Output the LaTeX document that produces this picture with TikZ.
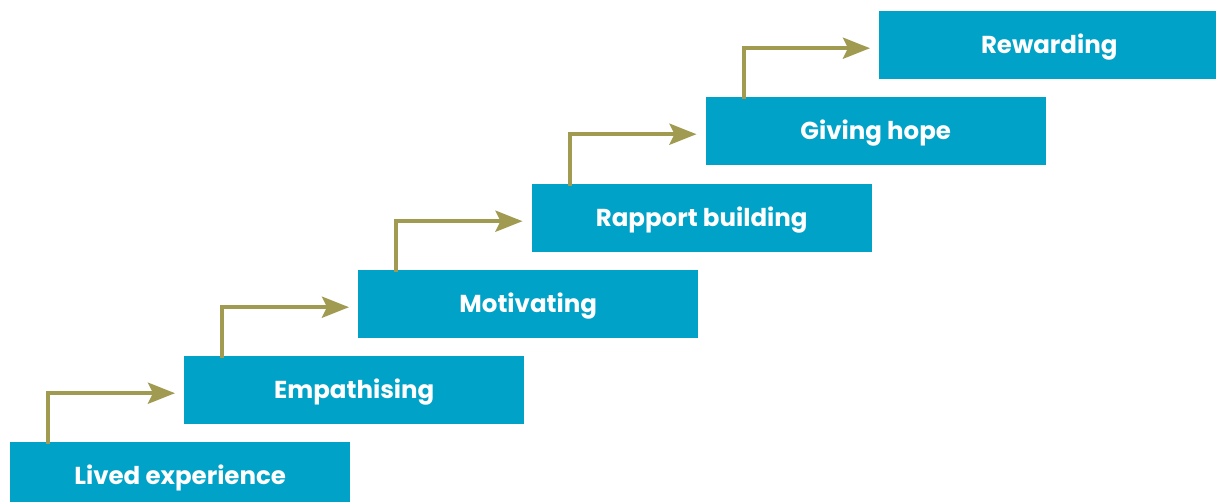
\documentclass[tikz,border=0pt]{standalone}
\usepackage{fontspec}
\setmainfont{Poppins}
\usetikzlibrary{arrows.meta}
\definecolor{stepblue}{HTML}{00A3C7}
\definecolor{stepolive}{HTML}{A09B50}
\tikzset{
  stepbox/.style={fill=stepblue, draw=none, anchor=north west,
    minimum width=340pt, minimum height=68pt, inner sep=0pt,
    text height=17.5pt, text depth=0pt,
    text=white, font=\fontsize{24.5}{28}\selectfont\bfseries},
  climb/.style={draw=stepolive, line width=4pt,
    -{Stealth[length=27pt,width=21pt,inset=5pt]}}
}
\begin{document}
\begin{tikzpicture}[x=1pt,y=-1pt]
  \useasboundingbox (0,0) rectangle (1216,502);
  \node[stepbox] (b0) at (10,442)    {Lived experience};
  \node[stepbox] (b1) at (184,356)   {Empathising};
  \node[stepbox] (b2) at (358,270)   {Motivating};
  \node[stepbox] (b3) at (531.5,184) {Rapport building};
  \node[stepbox] (b4) at (705.5,97)  {Giving hope};
  \node[stepbox] (b5) at (879,11)    {Rewarding};
  \foreach \a/\b in {b0/b1,b1/b2,b2/b3,b3/b4,b4/b5}{
    \draw[climb] ([xshift=38pt,yshift=-2pt]\a.north west)
      |- ([xshift=-9pt,yshift=-3pt]\b.west);
  }
\end{tikzpicture}
\end{document}
